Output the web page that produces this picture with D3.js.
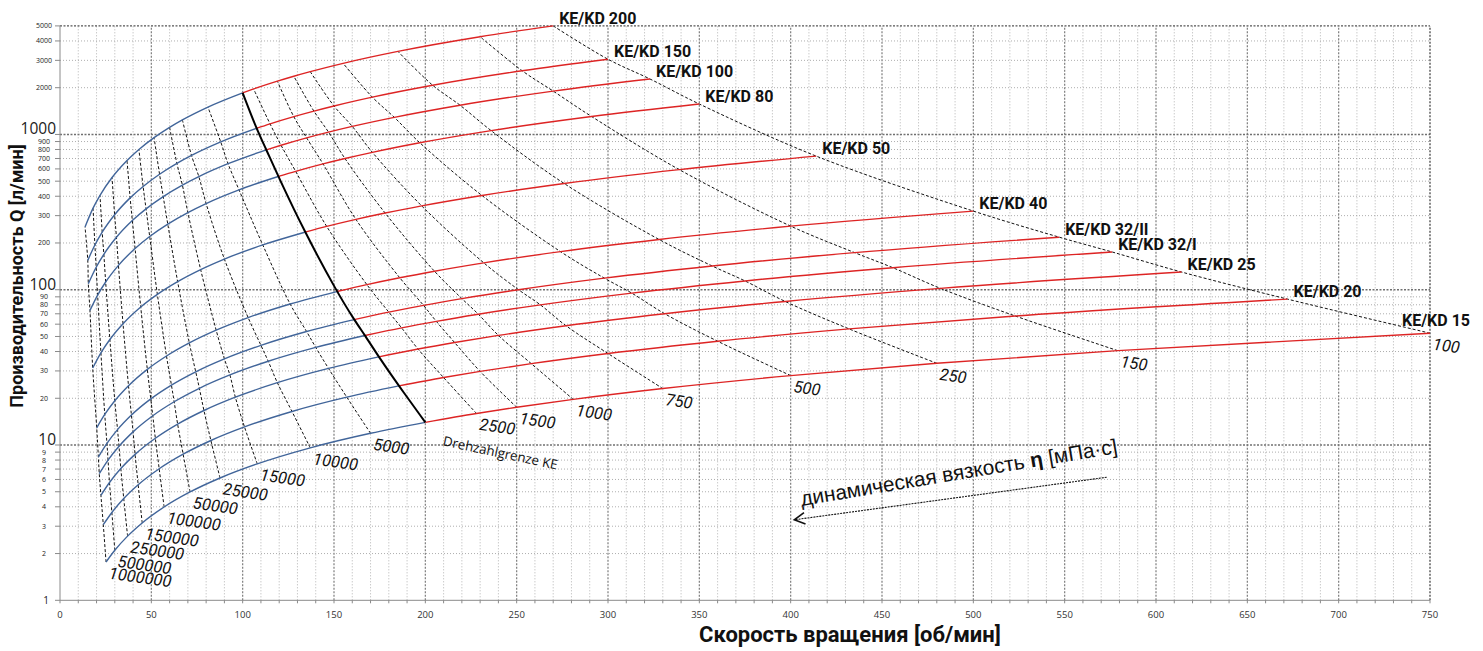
<!DOCTYPE html>
<html><head><meta charset="utf-8">
<script src="https://cdn.jsdelivr.net/npm/d3@7"></script>
<style>body{margin:0;background:#fff}svg{display:block}</style>
</head><body>
<svg id="c" width="1483" height="651"></svg>
<script>
// ---------- data ----------
const pumps = ["KE/KD 15","KE/KD 20","KE/KD 25","KE/KD 32/I","KE/KD 32/II","KE/KD 40","KE/KD 50","KE/KD 80","KE/KD 100","KE/KD 150","KE/KD 200"];
// flow [l/min] at the maximum speed (end of each curve)
const maxFlow = [52.5, 87, 130, 175, 218, 321, 725, 1570, 2275, 3050, 5000];
const viscosities = [100,150,250,500,750,1000,1500,2500,5000,10000,15000,25000,50000,100000,150000,250000,500000,1000000];
// permissible speed [rpm] per viscosity (rows) and pump (columns, same order as pumps)
const speed100     = [750, 672, 614, 576, 547, 500, 414, 350, 323, 300, 270];
const speed150     = [579, 523, 482, 456, 435, 400, 339, 291, 270, 253, 230];
const speed250     = [480, 432, 397, 375, 357, 328, 276, 236, 219, 204, 185];
const speed500     = [400, 360, 331, 313, 298, 274, 231, 197, 183, 171, 155];
const speed750     = [330, 300, 277, 263, 251, 232, 198, 171, 160, 150, 137];
const speed1000    = [281, 258, 240, 229, 220, 205, 178, 156, 147, 139, 128];
const speed1500    = [250, 230, 216, 206, 199, 186, 162, 144, 135, 128, 119];
const speed2500    = [228, 210, 196, 187, 180, 168, 146, 129, 121, 115, 106];
const speed5000    = [170, 157, 147, 140, 135, 126, 111, 98, 92, 88, 81];
const speed10000   = [137, 127, 119, 114, 110, 103, 90, 80, 76, 72, 67];
const speed15000   = [108, 101, 96, 93, 90, 85.5, 77, 70, 67, 64, 60];
const speed25000   = [87.6, 82.6, 78.8, 76.3, 74.3, 70.8, 64.4, 59, 56.5, 54.5, 51.5];
const speed50000   = [71.2, 67.4, 64.4, 62.5, 61, 58.3, 53.3, 49.1, 47.1, 45.5, 43.2];
const speed100000  = [57, 54.3, 52.2, 50.8, 49.7, 47.8, 44.2, 41.1, 39.6, 38.4, 36.7];
const speed150000  = [45, 42.8, 41.1, 40, 39.1, 37.5, 34.5, 32, 30.9, 29.9, 28.5];
const speed250000  = [37, 34.9, 33.3, 32.3, 31.5, 30, 27.3, 25, 24, 23.1, 21.9];
const speed500000  = [30, 28.4, 27.1, 26.3, 25.7, 24.5, 22.4, 20.6, 19.8, 19.1, 18.1];
const speed1000000 = [25.2, 23.7, 22.4, 21.5, 21, 20.1, 17.9, 16.4, 15.5, 15.2, 13.7];
const speedTable = [speed100, speed150, speed250, speed500, speed750, speed1000, speed1500, speed2500,
  speed5000, speed10000, speed15000, speed25000, speed50000, speed100000, speed150000, speed250000,
  speed500000, speed1000000];
// speed limit of KE design ("Drehzahlgrenze KE")
const speedLimitKE = [200, 185.5, 174.5, 167, 161, 151.5, 134, 119.5, 113, 107.5, 100];
const xTicks = [0,50,100,150,200,250,300,350,400,450,500,550,600,650,700,750];
const yTicks = [1,2,3,4,5,6,7,8,9,10,20,30,40,50,60,70,80,90,100,200,300,400,500,600,700,800,900,1000,2000,3000,4000,5000];
const yBigLabels = [10,100,1000];
const arrowFrom = [573, 6.2], arrowTo = [402, 3.3], arrowText = [406, 4.05];

// ---------- chart ----------
const svg = d3.select("#c");
const x = d3.scaleLinear().domain([0,750]).range([60,1430]);
const y = d3.scaleLog().domain([1,5000]).range([600.3,25.9]);
const BOLD = "Roboto, 'Open Sans', sans-serif";
const BLUE = "#41659a", RED = "#dd2424";

const grid = svg.append("g");
grid.selectAll("line.v").data(d3.range(10,750,10)).join("line")
  .attr("x1",d=>x(d)).attr("x2",d=>x(d)).attr("y1",y(1)).attr("y2",y(5000))
  .attr("stroke",d=>d%50===0?"#7d7d7d":"#ababab")
  .attr("stroke-width",d=>d%50===0?1.2:0.9)
  .attr("stroke-dasharray",d=>d%50===0?"2,1.5":"1,2");
grid.selectAll("line.h").data(yTicks.filter(d=>d>1&&d<5000)).join("line")
  .attr("y1",d=>y(d)).attr("y2",d=>y(d)).attr("x1",x(0)).attr("x2",x(750))
  .attr("stroke",d=>yBigLabels.includes(d)?"#707070":"#a5a5a5")
  .attr("stroke-width",d=>yBigLabels.includes(d)?1.4:0.9)
  .attr("stroke-dasharray",d=>yBigLabels.includes(d)?"2,1.5":"1,2");
grid.append("line").attr("x1",x(0)).attr("x2",x(750)).attr("y1",y(5000)).attr("y2",y(5000))
  .attr("stroke","#555").attr("stroke-width",1.4).attr("stroke-dasharray","2,1.5");
grid.append("line").attr("x1",x(750)).attr("x2",x(750)).attr("y1",y(1)).attr("y2",y(5000))
  .attr("stroke","#555").attr("stroke-width",1.4).attr("stroke-dasharray","2,1.5");
grid.append("line").attr("x1",x(0)).attr("x2",x(0)).attr("y1",y(1)).attr("y2",y(5000)).attr("stroke","#8a8a8a");
grid.append("line").attr("x1",x(0)).attr("x2",x(750)).attr("y1",y(1)).attr("y2",y(1)).attr("stroke","#8a8a8a");
grid.selectAll("line.tx").data(d3.range(0,751,10)).join("line")
  .attr("x1",d=>x(d)).attr("x2",d=>x(d)).attr("y1",y(1)).attr("y2",y(1)+3).attr("stroke","#8a8a8a");
grid.selectAll("line.ty").data(yTicks).join("line")
  .attr("x1",x(0)-5).attr("x2",x(0)).attr("y1",d=>y(d)).attr("y2",d=>y(d)).attr("stroke","#8a8a8a");

svg.append("g").selectAll("text").data(xTicks).join("text")
  .attr("x",d=>x(d)).attr("y",618).attr("text-anchor","middle")
  .attr("font-family","'Open Sans', sans-serif").attr("font-size",9.5).attr("fill","#333").text(d=>d);
const yl = svg.append("g").attr("font-family","'Open Sans', sans-serif").attr("fill","#222");
yl.selectAll("text").data(yTicks).join("text")
  .each(function(d){
    const t = d3.select(this);
    if (yBigLabels.includes(d)) {
      t.attr("x",56).attr("y",y(d)).attr("text-anchor","end").attr("font-size",15.5);
    } else if (d===1) {
      t.attr("x",46).attr("y",y(d)+3.5).attr("text-anchor","middle").attr("font-size",10);
    } else {
      t.attr("x",44).attr("y",y(d)+2.5).attr("text-anchor","middle").attr("font-size",7);
    }
  }).text(d=>d);

svg.append("text").attr("transform",`translate(23,276) rotate(-90)`).attr("text-anchor","middle")
  .attr("font-family",BOLD).attr("font-weight","bold").attr("font-size",18).attr("fill","#111")
  .text("Производительность Q [л/мин]");
svg.append("text").attr("x",850).attr("y",642).attr("text-anchor","middle")
  .attr("font-family",BOLD).attr("font-weight","bold").attr("font-size",22).attr("fill","#111")
  .text("Скорость вращения [об/мин]");

const flow = (k,n) => maxFlow[k]*n/speed100[k];
const px = (k,n) => [x(n), y(flow(k,n))];

const vLine = d3.line().curve(d3.curveCatmullRom.alpha(0.5));
const vis = svg.append("g");
speedTable.forEach((row,i)=>{
  vis.append("path").attr("d",vLine(row.map((n,k)=>px(k,n))))
    .attr("fill","none").attr("stroke","#111").attr("stroke-width",1)
    .attr("stroke-dasharray","3,2");
});

const pLine = d3.line().curve(d3.curveMonotoneX);
const pc = svg.append("g");
pumps.forEach((p,k)=>{
  const speeds = speedTable.map(r=>r[k]);
  const lim = speedLimitKE[k];
  const blue = speeds.filter(n=>n<lim).concat([lim]).sort((a,b)=>a-b);
  const red = speeds.filter(n=>n>lim).concat([lim]).sort((a,b)=>a-b);
  pc.append("path").attr("d",pLine(blue.map(n=>px(k,n)))).attr("fill","none")
    .attr("stroke",BLUE).attr("stroke-width",1.4);
  pc.append("path").attr("d",pLine(red.map(n=>px(k,n)))).attr("fill","none")
    .attr("stroke",RED).attr("stroke-width",1.4);
});

svg.append("path").attr("d",d3.line().curve(d3.curveBasis)(speedLimitKE.map((n,k)=>px(k,n))))
  .attr("fill","none").attr("stroke","#000").attr("stroke-width",2);

const pl = svg.append("g").attr("font-family",BOLD).attr("font-weight","bold").attr("font-size",16).attr("fill","#111");
pumps.forEach((p,k)=>{
  const [ex,ey] = px(k,speed100[k]);
  const t = pl.append("text").attr("x",ex+6).attr("y",ey-2).text(p);
  const w = t.node().getComputedTextLength();
  if (ex+6+w > 1472) t.attr("x",1470-w).attr("y",ey-7);
});

const vl = svg.append("g").attr("font-family",BOLD).attr("font-style","italic").attr("font-size",16.5).attr("fill","#111");
speedTable.forEach((row,i)=>{
  const [ex,ey] = px(0,row[0]);
  vl.append("text").attr("transform",`translate(${ex+4},${ey+4}) rotate(8)`).attr("y",12.5).text(viscosities[i]);
});

{
  const [ex,ey] = px(0,speedLimitKE[0]);
  svg.append("text").attr("transform",`translate(${ex+17},${ey+23}) rotate(12)`)
    .attr("font-family","'Open Sans', sans-serif").attr("font-size",13.3).attr("fill","#111")
    .text("Drehzahlgrenze KE");
}

{
  const x1 = x(arrowFrom[0]), y1 = y(arrowFrom[1]), x2 = x(arrowTo[0]), y2 = y(arrowTo[1]);
  svg.append("line").attr("x1",x1).attr("y1",y1).attr("x2",x2).attr("y2",y2)
    .attr("stroke","#111").attr("stroke-width",1.1).attr("stroke-dasharray","2,1");
  const ang = Math.atan2(y1-y2, x1-x2), L = 12, s = 0.5;
  const a1 = [x2+L*Math.cos(ang-s), y2+L*Math.sin(ang-s)], a2 = [x2+L*Math.cos(ang+s), y2+L*Math.sin(ang+s)];
  svg.append("path").attr("d",`M${a1}L${x2},${y2}L${a2}`).attr("fill","none").attr("stroke","#111").attr("stroke-width",1.6);
  const t = svg.append("text").attr("transform",`translate(${x(arrowText[0])},${y(arrowText[1])}) rotate(-9.5)`)
    .attr("font-family","'Liberation Sans', Arial, sans-serif").attr("font-size",20.8).attr("fill","#111");
  t.append("tspan").text("динамическая вязкость ");
  t.append("tspan").attr("font-weight","bold").text("η");
  t.append("tspan").text(" [мПа·с]");
}
</script>
</body></html>
